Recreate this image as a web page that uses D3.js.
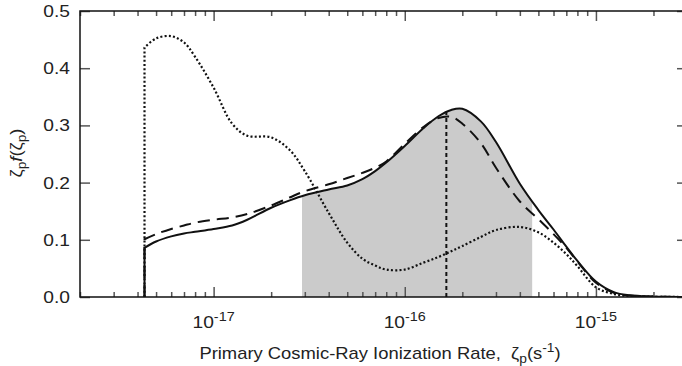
<!DOCTYPE html>
<html><head><meta charset="utf-8">
<script src="https://cdn.jsdelivr.net/npm/d3@7"></script>
<style>
body{margin:0;background:#fff}
svg{display:block}
text{font-family:"Liberation Sans",Arial,Helvetica,sans-serif;fill:#222}
</style>
</head><body>
<svg id="chart" width="682" height="366"></svg>
<script>
// ---- data ----
const zeta = [4.35e-18,5e-18,6e-18,7e-18,8e-18,1e-17,1.25e-17,1.5e-17,2e-17,2.5e-17,3e-17,4e-17,5e-17,6e-17,7e-17,8e-17,
  1e-16,1.25e-16,1.5e-16,1.75e-16,2e-16,2.5e-16,3e-16,4e-16,5e-16,6e-16,7e-16,8e-16,1e-15,1.25e-15,1.5e-15,2e-15,2.82e-15];
const solidSeries = [0.086,0.097,0.106,0.111,0.114,0.119,0.125,0.135,0.156,0.169,0.178,0.188,0.195,0.206,0.220,0.235,
  0.264,0.295,0.316,0.327,0.329,0.307,0.271,0.198,0.152,0.118,0.088,0.063,0.027,0.008,0.003,0.0008,0.0];
const dashedSeries = [0.101,0.110,0.119,0.125,0.130,0.135,0.139,0.145,0.160,0.174,0.185,0.197,0.208,0.217,0.226,0.237,
  0.268,0.297,0.313,0.315,0.303,0.269,0.226,0.167,0.136,0.110,0.086,0.062,0.025,0.007,0.0025,0.0007,0.0];
const dottedSeries = [0.436,0.452,0.456,0.445,0.420,0.366,0.303,0.282,0.279,0.257,0.220,0.147,0.095,0.067,0.055,0.048,
  0.048,0.060,0.070,0.080,0.089,0.105,0.117,0.1225,0.113,0.095,0.075,0.054,0.017,0.005,0.0018,0.0005,0.0];
const onset = 4.35e-18;
const shadeRange = [2.9e-17, 4.64e-16];
const medianZeta = 1.65e-16, medianTop = 0.324;
const yTickValues = [0,0.1,0.2,0.3,0.4,0.5];
const yTickLabels = ["0.0","0.1","0.2","0.3","0.4","0.5"];
const xMajorTicks = [1e-17,1e-16,1e-15];
const xMajorExponents = ["-17","-16","-15"];
const xDomain = [2e-18, 2.82e-15];
const yDomain = [0, 0.5];

// ---- layout ----
const L = 80, R = 682, T = 11, B = 297;
const svg = d3.select("#chart");
const x = d3.scaleLog().domain(xDomain).range([L, R]);
const y = d3.scaleLinear().domain(yDomain).range([B, T]);

svg.append("clipPath").attr("id","plot").append("rect")
  .attr("x",L).attr("y",T).attr("width",R-L).attr("height",B-T);
svg.append("clipPath").attr("id","shade").append("rect")
  .attr("x",x(shadeRange[0])).attr("y",T).attr("width",x(shadeRange[1])-x(shadeRange[0])).attr("height",B-T);

const curve = d3.curveCatmullRom.alpha(0.5);
const pts = s => zeta.map((z,i)=>[z,s[i]]);
const area = d3.area().x(d=>x(d[0])).y0(y(0)).y1(d=>y(d[1])).curve(curve);
const line = d3.line().x(d=>x(d[0])).y(d=>y(d[1])).curve(curve);
const withOnset = s => `M${x(onset)},${y(0)}L` + line(pts(s)).slice(1);

const g = svg.append("g").attr("clip-path","url(#plot)");
g.append("path").attr("d", area(pts(solidSeries))).attr("fill","#cbcbcb").attr("clip-path","url(#shade)");

g.append("path").attr("d", withOnset(dottedSeries)).attr("fill","none").attr("stroke","#111")
  .attr("stroke-width",2.2).attr("stroke-dasharray","2,2.2");
g.append("path").attr("d", withOnset(dashedSeries)).attr("fill","none").attr("stroke","#111")
  .attr("stroke-width",2).attr("stroke-dasharray","12,7");
g.append("path").attr("d", withOnset(solidSeries)).attr("fill","none").attr("stroke","#111")
  .attr("stroke-width",2);
g.append("line").attr("x1",x(medianZeta)).attr("x2",x(medianZeta)).attr("y1",y(0)).attr("y2",y(medianTop))
  .attr("stroke","#111").attr("stroke-width",2).attr("stroke-dasharray","4,3");

// ---- axes ----
const minorTicks = x.ticks().filter(v => !xMajorTicks.some(m => Math.abs(m-v)/m < 1e-6));
function styleAxis(sel){
  sel.select(".domain").remove();
  sel.selectAll(".tick line").attr("stroke","#555").attr("stroke-width",1.5);
  sel.selectAll(".tick text").remove();
}
svg.append("g").attr("transform",`translate(0,${B})`)
  .call(d3.axisBottom(x).tickValues(minorTicks).tickSize(-5)).call(styleAxis);
svg.append("g").attr("transform",`translate(0,${B})`)
  .call(d3.axisBottom(x).tickValues(xMajorTicks).tickSize(-10)).call(styleAxis);
svg.append("g").attr("transform",`translate(0,${T})`)
  .call(d3.axisTop(x).tickValues(minorTicks).tickSize(-5)).call(styleAxis);
svg.append("g").attr("transform",`translate(0,${T})`)
  .call(d3.axisTop(x).tickValues(xMajorTicks).tickSize(-10)).call(styleAxis);
svg.append("g").attr("transform",`translate(${L},0)`)
  .call(d3.axisLeft(y).tickValues(yTickValues).tickSize(-10)).call(styleAxis);
svg.append("g").attr("transform",`translate(${R},0)`)
  .call(d3.axisRight(y).tickValues(yTickValues).tickSize(-5)).call(styleAxis);

// frame
svg.append("path").attr("d",`M${R},${T}H${L}V${B}H${R}`).attr("fill","none")
  .attr("stroke","#111").attr("stroke-width",1.5);

// y tick labels
yTickValues.forEach((v,i)=>{
  svg.append("text").attr("transform",`translate(70,${y(v)}) scale(1.2,1)`)
    .attr("text-anchor","end").attr("dy","0.38em").attr("font-size",16).text(yTickLabels[i]);
});
// x tick labels
xMajorTicks.forEach((v,i)=>{
  const t = svg.append("text").attr("transform",`translate(${x(v)},328) scale(1.2,1)`)
    .attr("text-anchor","middle").attr("font-size",16);
  t.append("tspan").text("10");
  t.append("tspan").attr("dy",-7).attr("font-size",12).text(xMajorExponents[i]);
});
// x title
const xt = svg.append("text").attr("transform","translate(380,359) scale(1.15,1)")
  .attr("text-anchor","middle").attr("font-size",16);
xt.append("tspan").text("Primary Cosmic-Ray Ionization Rate,\u00a0\u00a0ζ");
xt.append("tspan").attr("dy",4).attr("font-size",12).text("p");
xt.append("tspan").attr("dy",-4).text("(s");
xt.append("tspan").attr("dy",-7).attr("font-size",12).text("-1");
xt.append("tspan").attr("dy",7).text(")");
// y title
const yt = svg.append("text").attr("transform","translate(22,153) rotate(-90) scale(1.15,1)")
  .attr("text-anchor","middle").attr("font-size",16);
yt.append("tspan").text("ζ");
yt.append("tspan").attr("dy",4).attr("font-size",12).text("p");
yt.append("tspan").attr("dy",-4).attr("font-style","italic").text("f");
yt.append("tspan").text("(ζ");
yt.append("tspan").attr("dy",4).attr("font-size",12).text("p");
yt.append("tspan").attr("dy",-4).text(")");
</script>
</body></html>
